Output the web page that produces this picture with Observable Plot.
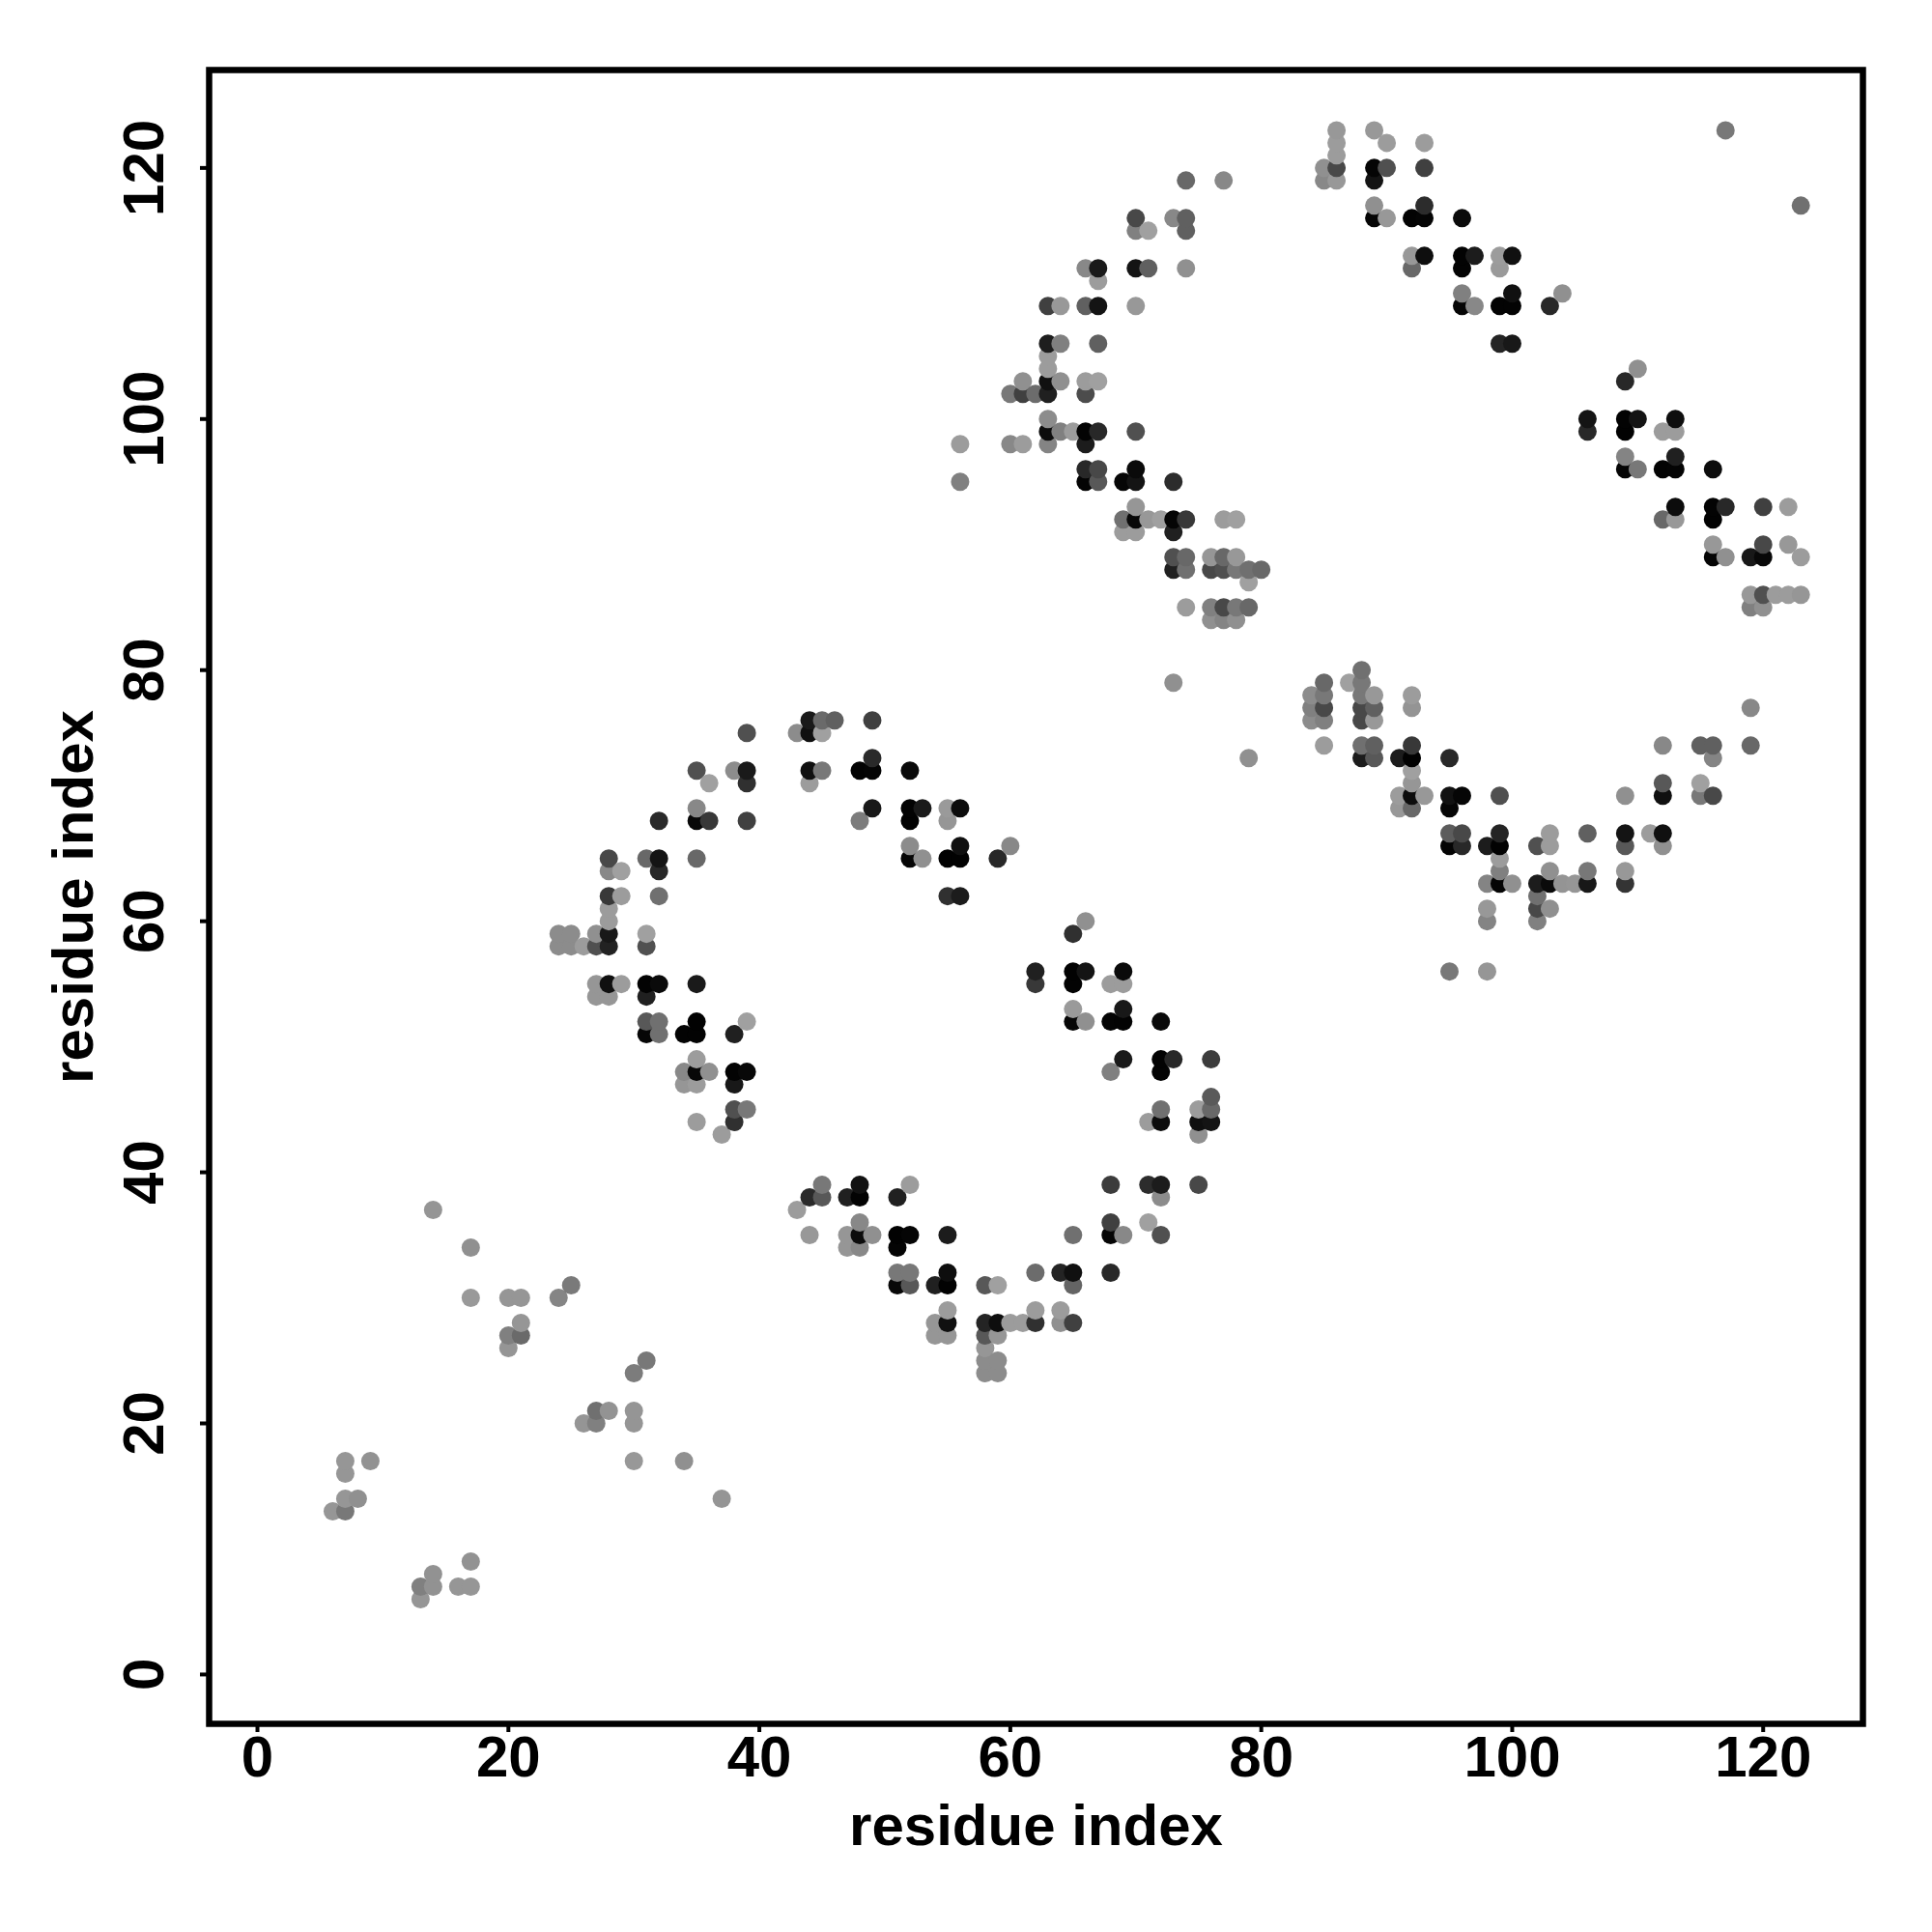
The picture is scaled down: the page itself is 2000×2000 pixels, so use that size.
<!DOCTYPE html>
<html>
<head>
<meta charset="utf-8">
<script src="https://cdn.jsdelivr.net/npm/d3@7"></script>
<script src="https://cdn.jsdelivr.net/npm/@observablehq/plot@0.6"></script>
<style>html,body{margin:0;padding:0;background:#fff}</style>
</head>
<body>
<div id="chart"></div>
<script>
// Each entry: [residue i, residue j, grey level of the dot]
const scatterLow = [
[14,37,0x95],[17,34,0x90],[17,30,0x99],[20,30,0x96],[21,30,0x96],[24,30,0x85],[25,31,0x7a],[21,28,0x96],[20,27,0x80],[21,27,0x6a],[20,26,0x95],
[31,25,0x78],[30,24,0x7c],[27,21,0x70],[28,21,0x93],[30,21,0x95],[26,20,0x95],[27,20,0x80],[30,20,0x95],
[7,17,0x96],[9,17,0x92],[30,17,0x98],[34,17,0x90],[7,16,0x96],[7,14,0x96],[8,14,0x90],[37,14,0x95],[6,13,0x96],[7,13,0x78],
[17,9,0x92],[14,8,0x92],[13,7,0x80],[14,7,0x92],[16,7,0x96],[17,7,0x96],[13,6,0x96]
];
const arcUpperLeft = [
[44,76,0x1a],[45,76,0x6a],[46,76,0x60],[49,76,0x40],[39,75,0x50],[43,75,0x8c],[44,75,0x10],[45,75,0xa0],[49,73,0x2a],
[35,72,0x50],[38,72,0x8c],[39,72,0x1a],[44,72,0x10],[45,72,0x78],[48,72,0x03],[49,72,0x05],[52,72,0x0a],
[36,71,0xa0],[39,71,0x30],[44,71,0x9c],[35,69,0x88],[49,69,0x18],[52,69,0x03],[53,69,0x1a],[55,69,0x9a],[56,69,0x0c],
[32,68,0x2a],[35,68,0x08],[36,68,0x38],[39,68,0x40],[48,68,0x7c],[52,68,0x02],[55,68,0x96],[52,66,0x8c],[56,66,0x10],[60,66,0x88],
[28,65,0x48],[31,65,0x68],[32,65,0x14],[35,65,0x68],[52,65,0x05],[53,65,0x90],[55,65,0x02],[56,65,0x02],[59,65,0x28],
[28,64,0x88],[29,64,0xa0],[32,64,0x28],[28,62,0x38],[29,62,0x9c],[32,62,0x70],[55,62,0x30],[56,62,0x1c],[28,61,0x9c],[28,60,0x9c],
[24,59,0x8c],[25,59,0x8c],[27,59,0x90],[28,59,0x18],[31,59,0xa0],[24,58,0x8c],[25,58,0x8c],[26,58,0x9c],[27,58,0x50],[28,58,0x22],[31,58,0x50]
];
const arcLowerLeft = [
[27,55,0x96],[28,55,0x10],[29,55,0x9c],[31,55,0x03],[32,55,0x0a],[35,55,0x1a],[27,54,0x96],[28,54,0x96],[31,54,0x20],
[31,52,0x58],[32,52,0x70],[35,52,0x02],[39,52,0xa0],[31,51,0x06],[32,51,0x70],[34,51,0x03],[35,51,0x03],[38,51,0x20],
[35,49,0x9c],[34,48,0x88],[35,48,0x08],[36,48,0x90],[38,48,0x03],[39,48,0x08],[34,47,0x96],[35,47,0x9c],[38,47,0x18],
[38,45,0x50],[39,45,0x78],[35,44,0x9c],[38,44,0x30],[37,43,0x9c]
];
const arcRightUpper = [
[66,60,0x90],[65,59,0x30],[62,56,0x20],[65,56,0x02],[66,56,0x14],[69,56,0x0a],[62,55,0x38],[65,55,0x03],[68,55,0x9c],[69,55,0x9c],
[65,53,0x9a],[69,53,0x18],[65,52,0x06],[66,52,0x90],[68,52,0x04],[69,52,0x03],[72,52,0x0a],
[69,49,0x1a],[72,49,0x03],[73,49,0x28],[76,49,0x3c],[68,48,0x80],[72,48,0x04],[76,46,0x5a],[72,45,0x70],[75,45,0x9c],[76,45,0x68],
[71,44,0x9c],[72,44,0x0c],[75,44,0x0f],[76,44,0x14],[75,43,0x90]
];
const arcBottom = [
[45,39,0x78],[48,39,0x12],[52,39,0x9c],[68,39,0x3c],[71,39,0x2c],[72,39,0x1c],[75,39,0x48],
[44,38,0x2a],[45,38,0x58],[47,38,0x20],[48,38,0x03],[51,38,0x20],[72,38,0x8c],[43,37,0x9c],[48,36,0x88],[68,36,0x40],[71,36,0xa0],
[44,35,0x98],[47,35,0x96],[48,35,0x0c],[49,35,0x90],[51,35,0x02],[52,35,0x05],[55,35,0x1c],[65,35,0x70],[68,35,0x05],[69,35,0x88],[72,35,0x50],
[47,34,0x96],[48,34,0x88],[51,34,0x04],[51,32,0x78],[52,32,0x78],[55,32,0x0e],[62,32,0x6c],[64,32,0x24],[65,32,0x10],[68,32,0x28],
[51,31,0x08],[52,31,0x58],[54,31,0x20],[55,31,0x02],[58,31,0x58],[59,31,0xa0],[65,31,0x64],[55,29,0x9c],[62,29,0x9c],[64,29,0x9c],
[54,28,0x96],[55,28,0x10],[58,28,0x24],[59,28,0x0e],[60,28,0x9c],[61,28,0x9c],[62,28,0x30],[64,28,0x90],[65,28,0x40],
[54,27,0x96],[55,27,0x96],[58,27,0x58],[59,27,0x96],[58,26,0x96],[58,25,0x8c],[59,25,0x8c],[58,24,0x8c],[59,24,0x8c]
];
const bandUpperMiddle = [
[74,119,0x68],[77,119,0x88],[70,116,0x48],[73,116,0x88],[74,116,0x60],[70,115,0x80],[71,115,0xa0],[74,115,0x60],
[66,112,0x88],[67,112,0x1a],[70,112,0x14],[71,112,0x60],[74,112,0x90],[67,111,0x9c],
[63,109,0x40],[64,109,0x98],[66,109,0x60],[67,109,0x14],[70,109,0x98],[63,106,0x1e],[64,106,0x80],[67,106,0x60],[63,105,0x9c],[63,104,0x9c],
[61,103,0x90],[63,103,0x10],[64,103,0x90],[66,103,0x9c],[67,103,0xa0],[60,102,0x78],[61,102,0x40],[62,102,0x6c],[63,102,0x20],[66,102,0x4c],
[63,100,0x8c],[63,99,0x0c],[64,99,0x80],[65,99,0x9c],[66,99,0x03],[67,99,0x28],[70,99,0x50],
[56,98,0x9c],[60,98,0x88],[61,98,0x9c],[63,98,0x84],[66,98,0x1c],[66,96,0x28],[67,96,0x48],[70,96,0x0a],
[56,95,0x80],[66,95,0x04],[67,95,0x58],[69,95,0x06],[70,95,0x14],[73,95,0x2c],[70,93,0x96],
[69,92,0x70],[70,92,0x08],[71,92,0x98],[72,92,0xa0],[73,92,0x05],[74,92,0x38],[77,92,0x9c],[78,92,0xa0],[69,91,0x9c],[70,91,0x9c],[73,91,0x20],
[73,89,0x50],[74,89,0x68],[76,89,0x96],[77,89,0x68],[78,89,0x98],[73,88,0x20],[74,88,0x70],[76,88,0x48],[77,88,0x50],[78,88,0x78],[79,88,0x70],[80,88,0x68],
[79,87,0xa0],[74,85,0x9c],[76,85,0x80],[77,85,0x48],[78,85,0x78],[79,85,0x68],[76,84,0x90],[77,84,0x84],[78,84,0x90],[73,79,0x90],[79,73,0x90]
];
const bandUpperRight = [
[86,123,0x98],[89,123,0x98],[117,123,0x78],[86,122,0x9c],[90,122,0x9c],[93,122,0x9c],[86,121,0x9c],
[85,120,0x90],[86,120,0x48],[89,120,0x05],[90,120,0x50],[93,120,0x40],[85,119,0x88],[86,119,0x98],[89,119,0x14],
[89,117,0x90],[93,117,0x2c],[123,117,0x70],[89,116,0x05],[90,116,0x98],[92,116,0x03],[93,116,0x05],[96,116,0x0a],
[92,113,0x98],[93,113,0x0e],[96,113,0x03],[97,113,0x1c],[99,113,0x9c],[100,113,0x10],[92,112,0x68],[96,112,0x03],[99,112,0x9a],
[96,110,0x80],[100,110,0x10],[104,110,0x90],[96,109,0x05],[97,109,0x88],[99,109,0x03],[100,109,0x03],[103,109,0x28],[99,106,0x24],[100,106,0x18],
[110,104,0x90],[109,103,0x28],[106,100,0x14],[109,100,0x03],[110,100,0x14],[113,100,0x0e],[106,99,0x28],[109,99,0x02],[112,99,0x9c],[113,99,0x9c],
[109,97,0x84],[113,97,0x20],[109,96,0x05],[110,96,0x78],[112,96,0x03],[113,96,0x04],[116,96,0x0c],
[113,93,0x0c],[116,93,0x03],[117,93,0x28],[120,93,0x40],[122,93,0x9c],[112,92,0x68],[113,92,0x98],[116,92,0x02],
[116,90,0x98],[120,90,0x48],[122,90,0x98],[116,89,0x05],[117,89,0x90],[119,89,0x18],[120,89,0x08],[123,89,0x9c],
[119,86,0x98],[120,86,0x50],[121,86,0x9c],[122,86,0x9c],[123,86,0x96],[119,85,0x80],[120,85,0x90]
];
const bandLowerRight = [
[88,80,0x70],[85,79,0x68],[87,79,0xa0],[88,79,0x78],[84,78,0x8c],[85,78,0x78],[88,78,0x78],[89,78,0x98],[92,78,0x9c],
[84,77,0x80],[85,77,0x48],[88,77,0x48],[89,77,0x60],[92,77,0x94],[119,77,0x88],[84,76,0x8c],[85,76,0x80],[88,76,0x48],[89,76,0x98],
[85,74,0x9c],[88,74,0x70],[89,74,0x60],[92,74,0x38],[112,74,0x88],[115,74,0x60],[116,74,0x60],[119,74,0x68],
[88,73,0x1c],[89,73,0x58],[91,73,0x1c],[92,73,0x02],[95,73,0x28],[116,73,0x84],[92,72,0xa0],[92,71,0x96],[112,71,0x58],[115,71,0xa0],
[91,70,0x9c],[92,70,0x0c],[93,70,0x98],[95,70,0x12],[96,70,0x06],[99,70,0x50],[109,70,0x90],[112,70,0x10],[115,70,0x78],[116,70,0x48],
[91,69,0x98],[92,69,0x68],[95,69,0x06],[95,67,0x5c],[96,67,0x48],[99,67,0x24],[103,67,0x9c],[106,67,0x60],[109,67,0x14],[111,67,0x9c],[112,67,0x10],
[95,66,0x03],[96,66,0x28],[98,66,0x1c],[99,66,0x02],[102,66,0x50],[103,66,0x9c],[109,66,0x58],[112,66,0x90],[99,65,0x9c],
[99,64,0x80],[103,64,0x90],[106,64,0x78],[109,64,0x98],[98,63,0x84],[99,63,0x05],[100,63,0x90],[102,63,0x1c],[103,63,0x0a],[104,63,0x94],[105,63,0x96],[106,63,0x18],[109,63,0x34],
[102,62,0x70],[98,61,0x98],[102,61,0x48],[103,61,0x90],[98,60,0x84],[102,60,0x80],[95,56,0x78],[98,56,0x96]
];
const tickValues = [0, 20, 40, 60, 80, 100, 120];
const axisTitle = "residue index";

const contacts = [...scatterLow, ...arcUpperLeft, ...arcLowerLeft, ...arcRightUpper, ...arcBottom, ...bandUpperMiddle, ...bandUpperRight, ...bandLowerRight]
  .map(([i, j, level]) => ({i, j, level}))
  .sort((a, b) => d3.ascending(a.i, b.i) || d3.ascending(a.j, b.j));

const plot = Plot.plot({
  width: 2000,
  height: 2000,
  marginLeft: 216,
  marginRight: 72,
  marginTop: 72,
  marginBottom: 216,
  style: {fontFamily: "'Liberation Sans', Arial, sans-serif", fontWeight: "bold", color: "#000", background: "#fff"},
  x: {domain: [-3.85, 127.95]},
  y: {domain: [-3.93, 127.8]},
  color: {type: "linear", domain: [0, 255], range: ["#000000", "#ffffff"]},
  marks: [
    Plot.dot(contacts, {x: "i", y: "j", r: 9.5, fill: "level", stroke: "none"}),
    Plot.frame({stroke: "#000", strokeWidth: 6.5}),
    Plot.axisX({
      anchor: "bottom", ticks: tickValues, tickSize: 9, tickPadding: 3, strokeWidth: 4, fontSize: 60,
      tickFormat: d => String(d), label: axisTitle, labelAnchor: "center", labelOffset: 125, labelArrow: "none"
    }),
    Plot.axisY({
      anchor: "left", ticks: tickValues, tickSize: 9, tickPadding: 39, strokeWidth: 4, fontSize: 60, tickRotate: -90,
      tickFormat: d => String(d), label: axisTitle, labelAnchor: "center", labelOffset: 163, labelArrow: "none"
    })
  ]
});
document.getElementById("chart").appendChild(plot);
</script>
</body>
</html>
